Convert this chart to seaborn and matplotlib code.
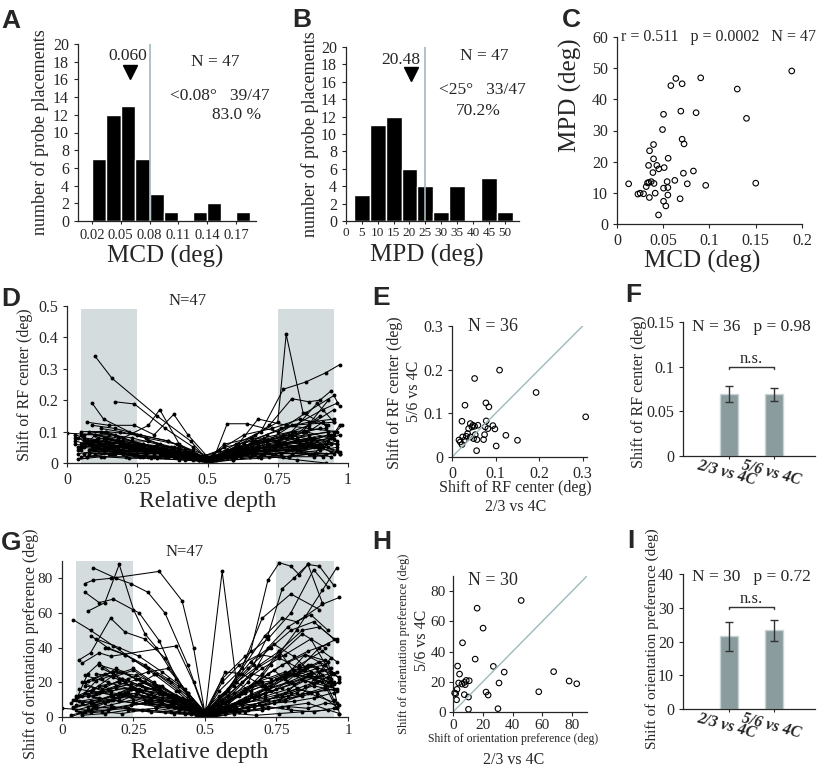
import numpy as np
import pandas as pd
import seaborn as sns
import matplotlib.pyplot as plt

# ---- A: MCD histogram
mcd_edges = [0.02, 0.035, 0.05, 0.065, 0.08, 0.095, 0.11, 0.125, 0.14, 0.155, 0.17, 0.185]
mcd_counts = [7, 12, 13, 7, 3, 1, 0, 1, 2, 0, 1]
mcd_median = 0.060
mcd_cut = 0.08

# ---- B: MPD histogram
mpd_edges = [2.5, 7.5, 12.5, 17.5, 22.5, 27.5, 32.5, 37.5, 42.5, 47.5, 52.5]
mpd_counts = [3, 11, 12, 6, 4, 1, 4, 0, 5, 1]
mpd_median = 20.48
mpd_cut = 25

# ---- C: MCD vs MPD
c_mcd = [0.0126, 0.0226, 0.025, 0.0287, 0.0316, 0.0330, 0.0345, 0.0370, 0.0350, 0.0400,
         0.0413, 0.0449, 0.0388, 0.0395, 0.0341, 0.0352, 0.0395, 0.0431, 0.0452, 0.0510,
         0.0492, 0.0503, 0.0553, 0.0542, 0.0503, 0.0550, 0.0550, 0.0503, 0.0528, 0.0625,
         0.0582, 0.0636, 0.0704, 0.0690, 0.0704, 0.0725, 0.0718, 0.0760, 0.0682, 0.0855,
         0.0905, 0.0826, 0.0959, 0.1300, 0.1400, 0.1500, 0.1889]
c_mpd = [12.9, 9.6, 9.9, 9.7, 12.0, 13.2, 13.3, 13.6, 8.5, 13.0,
         9.9, 2.9, 16.5, 20.9, 18.8, 23.5, 25.5, 18.8, 17.7, 18.1,
         30.3, 35.2, 21.1, 13.6, 11.5, 11.7, 9.3, 7.3, 5.8, 14.0,
         44.4, 46.7, 45.0, 36.2, 27.2, 25.7, 16.3, 12.9, 8.1, 35.7,
         46.9, 17.0, 12.4, 43.3, 33.9, 13.1, 49.1]

# ---- D: RF center shift vs relative depth (one line per probe placement)
d_depth = [
    [0.10, 0.16, 0.32, 0.44, 0.50, 0.58, 0.70, 0.82, 0.93],
    [0.17, 0.24, 0.35, 0.45, 0.51, 0.60, 0.72, 0.85, 0.94],
    [0.09, 0.13, 0.22, 0.33, 0.48, 0.56, 0.68, 0.80, 0.95],
    [0.00, 0.10, 0.20, 0.30, 0.42, 0.50, 0.62, 0.75, 0.88],
    [0.06, 0.12, 0.20, 0.29, 0.33, 0.40, 0.50, 0.58, 0.67, 0.75, 0.78, 0.84, 0.92],
    [0.07, 0.15, 0.24, 0.31, 0.38, 0.43, 0.51, 0.60, 0.70, 0.80, 0.90],
    [0.05, 0.14, 0.27, 0.40, 0.50, 0.60, 0.69, 0.77, 0.85, 0.92, 0.97],
    [0.04, 0.11, 0.22, 0.36, 0.50, 0.63, 0.72, 0.80, 0.86, 0.90, 0.94],
    [0.03, 0.10, 0.19, 0.30, 0.45, 0.52, 0.57, 0.64, 0.75, 0.85, 0.95, 0.97],
    [0.05, 0.13, 0.21, 0.28, 0.36, 0.46, 0.50, 0.56, 0.66, 0.74, 0.83, 0.94, 0.97],
    [0.06, 0.16, 0.26, 0.36, 0.44, 0.50, 0.57, 0.64, 0.72, 0.81, 0.90],
    [0.03, 0.09, 0.17, 0.25, 0.35, 0.47, 0.53, 0.61, 0.70, 0.79, 0.88, 0.96],
    [0.10, 0.18, 0.27, 0.37, 0.47, 0.52, 0.61, 0.71, 0.81, 0.92],
    [0.12, 0.19, 0.28, 0.39, 0.48, 0.54, 0.63, 0.73, 0.83, 0.93],
    [0.14, 0.23, 0.32, 0.41, 0.50, 0.59, 0.68, 0.77, 0.86, 0.95],
    [0.04, 0.08, 0.14, 0.22, 0.31, 0.42, 0.49, 0.56, 0.66, 0.76, 0.87, 0.96],
    [0.06, 0.13, 0.20, 0.29, 0.39, 0.47, 0.53, 0.62, 0.71, 0.80, 0.89, 0.97],
    [0.05, 0.10, 0.18, 0.27, 0.38, 0.46, 0.50, 0.58, 0.68, 0.78, 0.87, 0.93],
    [0.07, 0.15, 0.25, 0.35, 0.45, 0.51, 0.59, 0.69, 0.79, 0.88, 0.98],
    [0.04, 0.12, 0.21, 0.30, 0.40, 0.49, 0.55, 0.63, 0.72, 0.82, 0.91],
    [0.09, 0.16, 0.24, 0.34, 0.43, 0.50, 0.56, 0.66, 0.75, 0.85, 0.95],
    [0.11, 0.19, 0.29, 0.38, 0.46, 0.52, 0.60, 0.68, 0.78, 0.86, 0.96],
    [0.08, 0.17, 0.26, 0.34, 0.44, 0.50, 0.57, 0.65, 0.74, 0.84, 0.93],
    [0.03, 0.11, 0.20, 0.31, 0.41, 0.48, 0.55, 0.64, 0.74, 0.85, 0.94],
    [0.05, 0.15, 0.23, 0.32, 0.42, 0.50, 0.58, 0.67, 0.76, 0.86, 0.95],
    [0.13, 0.21, 0.30, 0.40, 0.49, 0.55, 0.64, 0.73, 0.82, 0.91],
    [0.06, 0.14, 0.23, 0.33, 0.43, 0.51, 0.60, 0.70, 0.80, 0.90, 0.97],
    [0.08, 0.16, 0.24, 0.33, 0.42, 0.49, 0.57, 0.65, 0.76, 0.86, 0.95],
    [0.10, 0.19, 0.28, 0.37, 0.46, 0.50, 0.58, 0.68, 0.78, 0.88, 0.96],
    [0.04, 0.12, 0.21, 0.31, 0.41, 0.50, 0.59, 0.68, 0.77, 0.87, 0.94],
    [0.07, 0.14, 0.22, 0.31, 0.41, 0.50, 0.56, 0.65, 0.74, 0.84, 0.93],
    [0.09, 0.17, 0.26, 0.36, 0.45, 0.51, 0.61, 0.70, 0.80, 0.89, 0.95],
    [0.05, 0.13, 0.22, 0.32, 0.42, 0.50, 0.59, 0.69, 0.79, 0.88, 0.97],
    [0.10, 0.18, 0.27, 0.37, 0.46, 0.51, 0.59, 0.67, 0.76, 0.85, 0.94],
    [0.06, 0.15, 0.24, 0.34, 0.44, 0.50, 0.60, 0.71, 0.81, 0.91],
    [0.12, 0.20, 0.29, 0.39, 0.48, 0.54, 0.62, 0.71, 0.80, 0.90],
    [0.03, 0.09, 0.18, 0.28, 0.40, 0.49, 0.57, 0.67, 0.78, 0.88, 0.96],
    [0.08, 0.17, 0.27, 0.38, 0.47, 0.53, 0.62, 0.72, 0.82, 0.92],
    [0.11, 0.20, 0.30, 0.40, 0.49, 0.56, 0.66, 0.76, 0.86, 0.95],
    [0.05, 0.14, 0.25, 0.36, 0.46, 0.52, 0.61, 0.71, 0.81, 0.91, 0.96],
    [0.07, 0.16, 0.26, 0.36, 0.45, 0.50, 0.58, 0.66, 0.74, 0.83, 0.92],
    [0.09, 0.18, 0.28, 0.39, 0.48, 0.55, 0.64, 0.74, 0.84, 0.93],
    [0.04, 0.13, 0.23, 0.34, 0.45, 0.51, 0.60, 0.70, 0.80, 0.90, 0.97],
    [0.06, 0.14, 0.24, 0.35, 0.45, 0.50, 0.57, 0.68, 0.79, 0.89, 0.94],
    [0.10, 0.20, 0.31, 0.41, 0.50, 0.58, 0.69, 0.80, 0.90, 0.96],
    [0.13, 0.22, 0.33, 0.43, 0.50, 0.57, 0.66, 0.76, 0.86, 0.95],
    [0.08, 0.15, 0.25, 0.35, 0.44, 0.51, 0.60, 0.70, 0.81, 0.92],
]
d_shift = [
    [0.34, 0.27, 0.15, 0.07, 0.01, 0.03, 0.05, 0.08, 0.10],
    [0.195, 0.188, 0.11, 0.05, 0.005, 0.04, 0.06, 0.07, 0.09],
    [0.19, 0.14, 0.10, 0.06, 0.01, 0.02, 0.05, 0.12, 0.13],
    [0.095, 0.09, 0.07, 0.05, 0.03, 0.0, 0.03, 0.06, 0.08],
    [0.09, 0.10, 0.08, 0.12, 0.17, 0.06, 0.01, 0.04, 0.09, 0.13, 0.41, 0.16, 0.12],
    [0.13, 0.12, 0.12, 0.09, 0.155, 0.09, 0.01, 0.05, 0.07, 0.09, 0.11],
    [0.06, 0.07, 0.05, 0.03, 0.01, 0.06, 0.10, 0.235, 0.258, 0.287, 0.313],
    [0.04, 0.08, 0.06, 0.04, 0.005, 0.06, 0.12, 0.205, 0.195, 0.20, 0.23],
    [0.08, 0.07, 0.06, 0.04, 0.02, 0.01, 0.125, 0.125, 0.10, 0.16, 0.215, 0.18],
    [0.05, 0.06, 0.05, 0.04, 0.03, 0.02, 0.01, 0.03, 0.05, 0.04, 0.06, 0.08, 0.12],
    [0.07, 0.06, 0.04, 0.03, 0.02, 0.0, 0.02, 0.04, 0.05, 0.07, 0.05],
    [0.06, 0.05, 0.04, 0.03, 0.02, 0.01, 0.02, 0.03, 0.04, 0.04, 0.06, 0.04],
    [0.09, 0.08, 0.06, 0.05, 0.02, 0.03, 0.05, 0.07, 0.10, 0.11],
    [0.11, 0.10, 0.08, 0.06, 0.02, 0.04, 0.09, 0.11, 0.14, 0.12],
    [0.10, 0.07, 0.05, 0.03, 0.005, 0.03, 0.07, 0.09, 0.12, 0.17],
    [0.08, 0.06, 0.05, 0.04, 0.03, 0.02, 0.01, 0.02, 0.03, 0.05, 0.06, 0.06],
    [0.03, 0.04, 0.03, 0.02, 0.02, 0.01, 0.02, 0.04, 0.04, 0.03, 0.05, 0.03],
    [0.04, 0.09, 0.07, 0.06, 0.04, 0.02, 0.0, 0.03, 0.06, 0.08, 0.07, 0.09],
    [0.02, 0.03, 0.04, 0.03, 0.02, 0.01, 0.02, 0.03, 0.02, 0.03, 0.12],
    [0.012, 0.02, 0.02, 0.015, 0.01, 0.005, 0.02, 0.03, 0.04, 0.04, 0.02],
    [0.06, 0.05, 0.06, 0.05, 0.03, 0.01, 0.06, 0.08, 0.07, 0.10, 0.075],
    [0.08, 0.07, 0.07, 0.05, 0.03, 0.01, 0.05, 0.14, 0.12, 0.11, 0.10],
    [0.10, 0.09, 0.06, 0.04, 0.03, 0.0, 0.04, 0.06, 0.07, 0.06, 0.07],
    [0.07, 0.05, 0.04, 0.04, 0.03, 0.01, 0.03, 0.05, 0.05, 0.07, 0.035],
    [0.09, 0.09, 0.08, 0.06, 0.04, 0.01, 0.03, 0.07, 0.08, 0.09, 0.10],
    [0.08, 0.06, 0.05, 0.04, 0.02, 0.02, 0.03, 0.03, 0.04, 0.05],
    [0.05, 0.04, 0.03, 0.03, 0.02, 0.005, 0.02, 0.04, 0.05, 0.06, 0.09],
    [0.04, 0.03, 0.025, 0.02, 0.015, 0.005, 0.015, 0.02, 0.03, 0.03, 0.03],
    [0.05, 0.04, 0.03, 0.03, 0.02, 0.005, 0.03, 0.05, 0.06, 0.08, 0.06],
    [0.05, 0.06, 0.05, 0.04, 0.03, 0.0, 0.01, 0.02, 0.02, 0.03, 0.02],
    [0.07, 0.08, 0.06, 0.05, 0.03, 0.02, 0.03, 0.06, 0.05, 0.10, 0.20],
    [0.12, 0.11, 0.09, 0.07, 0.04, 0.02, 0.04, 0.08, 0.10, 0.19, 0.13],
    [0.02, 0.02, 0.015, 0.015, 0.01, 0.005, 0.01, 0.015, 0.02, 0.02, 0.035],
    [0.03, 0.05, 0.04, 0.03, 0.015, 0.01, 0.02, 0.04, 0.06, 0.05, 0.06],
    [0.065, 0.06, 0.04, 0.03, 0.02, 0.01, 0.03, 0.04, 0.07, 0.13],
    [0.06, 0.05, 0.04, 0.03, 0.015, 0.02, 0.04, 0.06, 0.08, 0.15],
    [0.09, 0.07, 0.05, 0.04, 0.03, 0.01, 0.02, 0.03, 0.04, 0.05, 0.07],
    [0.03, 0.03, 0.02, 0.02, 0.01, 0.01, 0.02, 0.02, 0.01, 0.0],
    [0.07, 0.06, 0.05, 0.05, 0.01, 0.05, 0.07, 0.11, 0.13, 0.14],
    [0.10, 0.10, 0.09, 0.07, 0.03, 0.01, 0.06, 0.09, 0.12, 0.17, 0.19],
    [0.02, 0.03, 0.02, 0.02, 0.01, 0.005, 0.02, 0.03, 0.03, 0.04, 0.03],
    [0.045, 0.04, 0.035, 0.03, 0.01, 0.02, 0.04, 0.05, 0.05, 0.05],
    [0.03, 0.04, 0.03, 0.03, 0.02, 0.01, 0.03, 0.04, 0.04, 0.06, 0.03],
    [0.08, 0.07, 0.05, 0.04, 0.025, 0.01, 0.04, 0.06, 0.09, 0.07, 0.08],
    [0.04, 0.03, 0.02, 0.02, 0.005, 0.02, 0.03, 0.03, 0.04, 0.05],
    [0.05, 0.05, 0.04, 0.03, 0.01, 0.03, 0.04, 0.06, 0.08, 0.09],
    [0.06, 0.05, 0.05, 0.04, 0.03, 0.005, 0.02, 0.03, 0.05, 0.06],
]

# ---- E: RF center shift, 5/6 vs 2/3
e_x = [0.0160, 0.0229, 0.0244, 0.0229, 0.0298, 0.0328, 0.0359, 0.0382, 0.0420, 0.0458,
       0.0481, 0.0519, 0.0595, 0.0420, 0.0496, 0.0534, 0.0573, 0.0519, 0.0565, 0.0725,
       0.0748, 0.0763, 0.0786, 0.0779, 0.0847, 0.0824, 0.0939, 0.0985, 0.1015, 0.1092,
       0.1237, 0.1504, 0.1931, 0.307, 0.0191, 0.0282]
e_y = [0.0390, 0.0283, 0.0459, 0.0819, 0.1186, 0.0474, 0.0536, 0.0650, 0.0765, 0.0689,
       0.0727, 0.0704, 0.0727, 0.0459, 0.0421, 0.0512, 0.0398, 0.1798, 0.0145, 0.0398,
       0.0512, 0.0689, 0.0827, 0.1239, 0.1148, 0.0650, 0.0719, 0.0643, 0.0252, 0.1989,
       0.0497, 0.0383, 0.1477, 0.092, 0.0344, 0.0383]

# ---- F: mean RF shift per layer pair
layer_pairs = ["2/3 vs 4C", "5/6 vs 4C"]
rf_mean = [0.069, 0.069]
rf_sem = [0.009, 0.007]

# ---- G: orientation shift vs relative depth
g_depth = [
    [0.08, 0.11, 0.17, 0.34, 0.42, 0.46, 0.50, 0.58, 0.68, 0.78, 0.88],
    [0.11, 0.19, 0.24, 0.30, 0.36, 0.44, 0.50, 0.56, 0.64, 0.72, 0.80, 0.88, 0.93],
    [0.09, 0.15, 0.20, 0.25, 0.29, 0.33, 0.40, 0.50, 0.55, 0.62, 0.70, 0.80, 0.90],
    [0.08, 0.13, 0.18, 0.27, 0.34, 0.41, 0.50, 0.56, 0.61, 0.66, 0.73, 0.82, 0.91, 0.96],
    [0.04, 0.10, 0.18, 0.25, 0.32, 0.40, 0.47, 0.50, 0.57, 0.65, 0.72, 0.79, 0.85, 0.91, 0.97],
    [0.06, 0.10, 0.17, 0.22, 0.29, 0.36, 0.45, 0.50, 0.55, 0.63, 0.71, 0.77, 0.82, 0.87, 0.93],
    [0.07, 0.13, 0.17, 0.40, 0.46, 0.50, 0.58, 0.66, 0.72, 0.76, 0.80, 0.83, 0.86, 0.90, 0.95],
    [0.10, 0.16, 0.22, 0.30, 0.38, 0.44, 0.50, 0.60, 0.67, 0.72, 0.77, 0.81, 0.86, 0.91],
    [0.05, 0.09, 0.13, 0.20, 0.27, 0.35, 0.44, 0.50, 0.57, 0.64, 0.70, 0.76, 0.84, 0.90, 0.96],
    [0.03, 0.07, 0.12, 0.19, 0.26, 0.34, 0.42, 0.49, 0.56, 0.63, 0.70, 0.78, 0.87, 0.94],
    [0.05, 0.11, 0.18, 0.25, 0.32, 0.40, 0.47, 0.51, 0.58, 0.66, 0.73, 0.79, 0.85, 0.92, 0.97],
    [0.08, 0.14, 0.21, 0.28, 0.36, 0.44, 0.50, 0.56, 0.63, 0.70, 0.78, 0.84, 0.90, 0.95],
    [0.04, 0.10, 0.16, 0.24, 0.31, 0.39, 0.46, 0.50, 0.57, 0.65, 0.72, 0.80, 0.88, 0.96],
    [0.00, 0.09, 0.16, 0.23, 0.30, 0.38, 0.45, 0.50, 0.55, 0.62, 0.70, 0.77, 0.86, 0.97],
    [0.06, 0.12, 0.19, 0.27, 0.34, 0.41, 0.48, 0.53, 0.60, 0.68, 0.75, 0.83, 0.91, 0.96],
    [0.03, 0.08, 0.15, 0.22, 0.29, 0.37, 0.44, 0.50, 0.56, 0.64, 0.71, 0.79, 0.86, 0.94],
    [0.09, 0.15, 0.22, 0.28, 0.35, 0.43, 0.50, 0.57, 0.63, 0.70, 0.77, 0.84, 0.91, 0.95],
    [0.07, 0.13, 0.20, 0.27, 0.33, 0.41, 0.49, 0.55, 0.61, 0.69, 0.76, 0.82, 0.89, 0.96],
    [0.12, 0.18, 0.25, 0.32, 0.38, 0.45, 0.50, 0.57, 0.64, 0.72, 0.80, 0.87, 0.94],
    [0.05, 0.11, 0.17, 0.24, 0.31, 0.39, 0.46, 0.51, 0.59, 0.67, 0.74, 0.81, 0.88, 0.95],
    [0.10, 0.17, 0.24, 0.31, 0.38, 0.45, 0.50, 0.56, 0.63, 0.71, 0.79, 0.85, 0.92, 0.97],
    [0.06, 0.12, 0.18, 0.25, 0.33, 0.41, 0.49, 0.55, 0.62, 0.70, 0.78, 0.84, 0.90, 0.94],
    [0.08, 0.14, 0.21, 0.29, 0.36, 0.43, 0.50, 0.58, 0.66, 0.73, 0.81, 0.88, 0.94],
    [0.13, 0.19, 0.26, 0.33, 0.40, 0.46, 0.50, 0.56, 0.63, 0.71, 0.78, 0.85, 0.93],
    [0.04, 0.11, 0.17, 0.24, 0.32, 0.40, 0.47, 0.52, 0.60, 0.67, 0.75, 0.82, 0.89, 0.96],
    [0.07, 0.14, 0.21, 0.28, 0.36, 0.43, 0.50, 0.57, 0.65, 0.72, 0.79, 0.86, 0.92, 0.97],
    [0.09, 0.16, 0.23, 0.30, 0.38, 0.46, 0.50, 0.58, 0.66, 0.73, 0.81, 0.87, 0.95],
    [0.05, 0.12, 0.20, 0.28, 0.35, 0.43, 0.49, 0.56, 0.64, 0.71, 0.78, 0.85, 0.92],
    [0.11, 0.17, 0.24, 0.31, 0.39, 0.46, 0.50, 0.57, 0.65, 0.74, 0.82, 0.89, 0.95],
    [0.06, 0.13, 0.20, 0.26, 0.34, 0.42, 0.48, 0.55, 0.62, 0.69, 0.77, 0.84, 0.91, 0.97],
    [0.10, 0.16, 0.22, 0.29, 0.37, 0.45, 0.50, 0.57, 0.64, 0.72, 0.80, 0.88, 0.95],
    [0.08, 0.15, 0.23, 0.30, 0.37, 0.44, 0.50, 0.58, 0.66, 0.74, 0.81, 0.87, 0.93],
    [0.12, 0.20, 0.27, 0.35, 0.43, 0.50, 0.56, 0.62, 0.69, 0.76, 0.83, 0.90, 0.96],
    [0.14, 0.21, 0.28, 0.36, 0.44, 0.50, 0.57, 0.64, 0.72, 0.79, 0.86, 0.93],
    [0.03, 0.10, 0.17, 0.25, 0.33, 0.41, 0.48, 0.54, 0.61, 0.69, 0.76, 0.84, 0.92, 0.97],
    [0.07, 0.14, 0.21, 0.29, 0.37, 0.45, 0.51, 0.58, 0.66, 0.74, 0.82, 0.89, 0.96],
    [0.09, 0.17, 0.25, 0.33, 0.41, 0.48, 0.53, 0.61, 0.70, 0.78, 0.86, 0.94],
    [0.11, 0.18, 0.26, 0.34, 0.42, 0.49, 0.55, 0.62, 0.70, 0.78, 0.85, 0.92],
    [0.06, 0.13, 0.21, 0.30, 0.38, 0.46, 0.51, 0.58, 0.67, 0.75, 0.83, 0.91],
    [0.15, 0.22, 0.29, 0.37, 0.44, 0.50, 0.57, 0.65, 0.73, 0.80, 0.88, 0.95],
    [0.04, 0.11, 0.18, 0.26, 0.34, 0.42, 0.49, 0.56, 0.63, 0.71, 0.79, 0.87, 0.95],
    [0.08, 0.16, 0.24, 0.32, 0.40, 0.47, 0.52, 0.60, 0.68, 0.76, 0.84, 0.92],
    [0.10, 0.18, 0.26, 0.34, 0.42, 0.49, 0.56, 0.64, 0.73, 0.81, 0.88, 0.96],
    [0.05, 0.12, 0.19, 0.27, 0.35, 0.43, 0.50, 0.57, 0.65, 0.73, 0.81, 0.89, 0.96],
    [0.13, 0.20, 0.27, 0.35, 0.43, 0.50, 0.56, 0.63, 0.71, 0.79, 0.86, 0.94],
    [0.07, 0.15, 0.23, 0.31, 0.39, 0.47, 0.53, 0.60, 0.68, 0.76, 0.84, 0.93],
    [0.09, 0.16, 0.24, 0.32, 0.40, 0.48, 0.54, 0.61, 0.69, 0.77, 0.85, 0.93, 0.97],
]
g_shift = [
    [77, 79, 80, 84, 67, 40, 2, 12, 20, 26, 22],
    [86, 80, 77, 72, 60, 30, 3, 22, 35, 45, 60, 85, 75],
    [61, 66, 88, 62, 48, 40, 22, 1, 10, 25, 57, 71, 62],
    [72, 66, 68, 60, 44, 18, 1, 84, 20, 15, 30, 50, 73, 86],
    [56, 50, 41, 33, 25, 15, 5, 1, 8, 20, 40, 52, 58, 65, 69],
    [33, 37, 57, 49, 45, 34, 10, 2, 15, 28, 47, 57, 55, 59, 50],
    [31, 37, 35, 41, 20, 2, 15, 38, 79, 89, 87, 82, 88, 87, 76],
    [47, 40, 36, 28, 20, 12, 0, 18, 30, 47, 74, 80, 88, 66],
    [10, 25, 31, 22, 15, 10, 5, 0, 6, 15, 25, 38, 50, 52, 44],
    [8, 12, 21, 28, 22, 15, 8, 2, 10, 20, 28, 36, 45, 25],
    [12, 16, 24, 28, 20, 12, 6, 1, 5, 12, 18, 25, 36, 30, 22],
    [20, 22, 26, 20, 14, 8, 2, 8, 14, 20, 22, 27, 32, 20],
    [5, 8, 10, 12, 10, 8, 4, 1, 3, 6, 10, 14, 18, 15],
    [5, 4, 4, 5, 4, 3, 2, 0, 2, 3, 4, 6, 8, 2],
    [12, 14, 18, 22, 16, 10, 3, 1, 6, 12, 22, 30, 38, 32],
    [0, 3, 8, 14, 20, 12, 6, 1, 4, 9, 16, 20, 25, 28],
    [21, 25, 20, 12, 8, 5, 1, 26, 25, 18, 12, 22, 24, 10],
    [8, 10, 14, 19, 25, 15, 3, 12, 20, 30, 38, 24, 28, 5],
    [25, 23, 27, 19, 12, 7, 2, 5, 11, 16, 20, 24, 20],
    [7, 6, 5, 7, 8, 6, 3, 1, 4, 6, 8, 9, 11, 14],
    [15, 13, 12, 11, 9, 6, 1, 3, 7, 12, 16, 21, 18, 20],
    [3, 5, 6, 4, 5, 3, 1, 5, 8, 6, 10, 13, 26, 34],
    [18, 16, 22, 17, 13, 10, 2, 6, 13, 18, 24, 19, 22],
    [30, 27, 22, 18, 12, 6, 1, 4, 8, 11, 14, 18, 23],
    [10, 8, 12, 16, 12, 9, 5, 1, 4, 7, 12, 16, 14, 6],
    [2, 3, 2, 4, 3, 2, 1, 3, 4, 5, 6, 5, 8, 7],
    [6, 9, 14, 12, 8, 4, 1, 12, 25, 22, 27, 30, 19],
    [4, 7, 11, 15, 18, 8, 2, 6, 10, 14, 23, 27, 33],
    [12, 15, 17, 14, 10, 5, 1, 3, 5, 9, 14, 20, 25],
    [9, 11, 9, 13, 10, 7, 3, 4, 9, 12, 17, 22, 27, 23],
    [3, 4, 6, 8, 6, 3, 0, 2, 3, 6, 4, 3, 5],
    [14, 18, 22, 26, 28, 14, 3, 16, 32, 42, 35, 26, 20],
    [45, 40, 35, 26, 16, 2, 20, 30, 36, 34, 28, 40, 45],
    [28, 22, 18, 14, 10, 1, 8, 14, 25, 32, 38, 42],
    [1, 4, 7, 10, 6, 4, 1, 3, 6, 8, 10, 12, 16, 20],
    [20, 15, 13, 10, 7, 4, 1, 9, 18, 27, 17, 12, 8],
    [12, 10, 8, 6, 5, 2, 1, 4, 7, 9, 14, 18],
    [22, 26, 24, 18, 11, 3, 7, 12, 18, 24, 28, 30],
    [16, 14, 12, 9, 7, 4, 1, 6, 11, 16, 26, 20],
    [40, 36, 30, 22, 14, 2, 14, 28, 40, 50, 55, 45],
    [6, 8, 10, 8, 7, 5, 2, 5, 8, 10, 12, 14, 16],
    [24, 20, 16, 12, 10, 4, 1, 14, 28, 36, 48, 40],
    [9, 12, 16, 14, 9, 3, 9, 16, 20, 25, 22, 16],
    [11, 13, 17, 15, 11, 6, 2, 5, 10, 15, 19, 23, 26],
    [18, 20, 16, 13, 9, 1, 8, 14, 18, 25, 30, 26],
    [1, 2, 4, 3, 2, 1, 0, 2, 1, 2, 3, 4],
    [13, 16, 19, 16, 12, 5, 1, 12, 21, 30, 36, 32, 2],
]

# ---- H: orientation shift, 5/6 vs 2/3
h_x = [45.8, 16.2, 20.2, 6.4, 14.9, 27.1, 34.4, 3.1, 4.4, 2.7,
       1.8, 1.1, 2.4, 3.8, 6.0, 7.6, 8.9, 10.9, 8.2, 7.6,
       10.4, 10.4, 22.2, 23.6, 30.9, 30.2, 57.6, 67.6, 78.0, 83.1]
h_y = [73.8, 68.7, 55.5, 45.8, 35.0, 30.2, 26.4, 30.4, 25.1, 15.0,
       12.1, 12.6, 8.1, 19.2, 18.5, 19.6, 20.9, 20.7, 18.1, 11.5,
       9.9, 1.8, 13.2, 11.2, 19.2, 2.2, 13.4, 26.7, 20.5, 18.7]

# ---- I: mean orientation shift per layer pair
ori_mean = [21.5, 23.3]
ori_sem = [4.3, 3.2]

# ---------------------------------------------------------------- style
sns.set_style("ticks")
plt.rcParams["font.family"] = ["Liberation Serif", "DejaVu Serif"]
plt.rcParams["axes.linewidth"] = 0.9
plt.rcParams["xtick.major.size"] = 3
plt.rcParams["ytick.major.size"] = 3
plt.rcParams["xtick.major.width"] = 0.8
plt.rcParams["ytick.major.width"] = 0.8

REF = "#9fb9bd"     # thin reference lines
SHADE = "#d4dcde"
BAR = "#8a9c9e"

W, H = 820, 768
fig = plt.figure(figsize=(W / 100, H / 100), dpi=100)


def add_ax(l, t, r, b):
    ax = fig.add_axes([l / W, 1 - b / H, (r - l) / W, (b - t) / H])
    sns.despine(ax=ax)
    return ax


def lab(ax, x, y, s, size, rot=0, **kw):
    ax.text(x, y, s, transform=ax.transAxes, ha="center", va="center",
            rotation=rot, fontsize=size, **kw)


def letter(x, y, s):
    fig.text(x / W, 1 - y / H, s, ha="left", va="top", fontsize=19,
             fontweight="bold", family=["Liberation Sans", "DejaVu Sans"])


def lines_panel(ax, depths, shifts):
    rows = []
    for i, (xs, ys) in enumerate(zip(depths, shifts)):
        rows += [(i, x, y) for x, y in zip(xs, ys)]
    df = pd.DataFrame(rows, columns=["probe", "depth", "shift"])
    sns.lineplot(data=df, x="depth", y="shift", units="probe", estimator=None,
                 sort=False, color="black", lw=0.75, marker="o", markersize=2.8,
                 markeredgewidth=0, ax=ax, legend=False)
    ax.set_xlim(0, 1)
    ax.set_xticks([0, 0.25, 0.5, 0.75, 1], labels=["0", "0.25", "0.5", "0.75", "1"])
    ax.set_xlabel("")
    ax.set_ylabel("")
    ax.tick_params(labelsize=11.5)


def scatter_panel(ax, xs, ys):
    sns.scatterplot(x=xs, y=ys, ax=ax, marker="o", s=16, facecolor="none",
                    edgecolor="black", linewidth=0.8, clip_on=False)


# ---------------------------------------------------------------- A
ax = add_ax(78, 44, 256, 221)
mcd_centers = (np.array(mcd_edges[:-1]) + np.array(mcd_edges[1:])) / 2
sns.histplot(x=mcd_centers, weights=mcd_counts, bins=mcd_edges, color="black",
             edgecolor="white", linewidth=1, alpha=1, ax=ax)
ax.axvline(mcd_cut, color=REF, lw=1.2)
ax.plot(mcd_median, 16.8, marker="v", color="black", markersize=10)
ax.text(0.0575, 18.6, f"{mcd_median:.3f}", ha="center", va="center", fontsize=12.5)
ax.text(0.148, 18.0, "N = 47", ha="center", va="center", fontsize=12.5)
ax.text(0.153, 14.1, "<0.08°   39/47", ha="center", va="center", fontsize=12.5)
ax.text(0.171, 12.0, "83.0 %", ha="center", va="center", fontsize=12.5)
ax.set_xlim(0.0054, 0.191)
ax.set_ylim(0, 20)
ax.set_yticks(range(0, 21, 2))
ax.set_xticks([0.02, 0.05, 0.08, 0.11, 0.14, 0.17],
              labels=["0.02", "0.05", "0.08", "0.11", "0.14", "0.17"])
ax.tick_params(axis="y", labelsize=11.5)
ax.tick_params(axis="x", labelsize=10.5, length=2)
ax.set_xlabel("")
ax.set_ylabel("")
lab(ax, -0.215, 0.5, "number of probe placements", 13, 90)
lab(ax, 0.49, -0.2, "MCD (deg)", 18)

# ---------------------------------------------------------------- B
ax = add_ax(346, 47, 519, 221)
mpd_centers = (np.array(mpd_edges[:-1]) + np.array(mpd_edges[1:])) / 2
sns.histplot(x=mpd_centers, weights=mpd_counts, bins=mpd_edges, color="black",
             edgecolor="white", linewidth=1, alpha=1, ax=ax)
ax.axvline(mpd_cut, color=REF, lw=1.2)
ax.plot(mpd_median, 16.9, marker="v", color="black", markersize=10)
ax.text(17.2, 18.5, f"{mpd_median:.2f}", ha="center", va="center", fontsize=12.5)
ax.text(43.7, 19.0, "N = 47", ha="center", va="center", fontsize=12.5)
ax.text(43.0, 15.0, "<25°   33/47", ha="center", va="center", fontsize=12.5)
ax.text(41.6, 12.7, "70.2%", ha="center", va="center", fontsize=12.5)
ax.set_xlim(0, 54.5)
ax.set_ylim(0, 20)
ax.set_yticks(range(0, 21, 2))
ax.set_xticks(range(0, 51, 5))
ax.tick_params(axis="y", labelsize=11.5)
ax.tick_params(axis="x", labelsize=9.5, length=2, pad=2)
ax.set_xlabel("")
ax.set_ylabel("")
lab(ax, -0.21, 0.5, "number of probe placements", 13, 90)
lab(ax, 0.47, -0.2, "MPD (deg)", 18)

# ---------------------------------------------------------------- C
ax = add_ax(617, 37, 802, 224)
scatter_panel(ax, c_mcd, c_mpd)
ax.set_xlim(0, 0.2)
ax.set_ylim(0, 60)
ax.set_xticks([0, 0.05, 0.1, 0.15, 0.2], labels=["0", "0.05", "0.1", "0.15", "0.2"])
ax.set_yticks(range(0, 61, 10))
ax.tick_params(labelsize=11.5)
ax.text(0.004, 60, "r = 0.511   p = 0.0002   N = 47", ha="left", va="center",
        fontsize=11.5)
lab(ax, -0.25, 0.69, "MPD (deg)", 18, 90)
lab(ax, 0.46, -0.2, "MCD (deg)", 18)

# ---------------------------------------------------------------- D
ax = add_ax(67, 306, 348, 463)
ax.axvspan(0.05, 0.25, ymax=0.98, color=SHADE, lw=0)
ax.axvspan(0.75, 0.95, ymax=0.98, color=SHADE, lw=0)
lines_panel(ax, d_depth, d_shift)
ax.set_ylim(0, 0.5)
ax.set_yticks([0, 0.1, 0.2, 0.3, 0.4, 0.5], labels=["0", "0.1", "0.2", "0.3", "0.4", "0.5"])
lab(ax, 0.43, 1.03, "N=47", 12)
lab(ax, -0.15, 0.5, "Shift of RF center (deg)", 11.5, 90)
lab(ax, 0.5, -0.245, "Relative depth", 17)

# ---------------------------------------------------------------- E
ax = add_ax(452, 326, 587, 457)
ax.plot([0, 0.3], [0, 0.3], color=REF, lw=1)
scatter_panel(ax, e_x, e_y)
ax.set_xlim(0, 0.31)
ax.set_ylim(0, 0.3)
ax.set_xticks([0, 0.1, 0.2, 0.3], labels=["0", "0.1", "0.2", "0.3"])
ax.set_yticks([0, 0.1, 0.2, 0.3], labels=["0", "0.1", "0.2", "0.3"])
ax.tick_params(labelsize=11.5)
ax.text(0.095, 0.298, "N = 36", ha="center", va="center", fontsize=13)
lab(ax, -0.42, 0.49, "Shift of RF center (deg)", 11.5, 90)
lab(ax, -0.285, 0.5, "5/6 vs 4C", 11.5, 90)
lab(ax, 0.47, -0.24, "Shift of RF center (deg)", 11.5)
lab(ax, 0.47, -0.385, "2/3 vs 4C", 11.5)


def bar_panel(ax, means, sems, top, ticks, ticklabels, text, ns_y, text_y, ns_text_y):
    sns.barplot(x=layer_pairs, y=means, color=BAR, width=0.4, edgecolor="#c9d3d4",
                linewidth=1, errorbar=None, saturation=1, ax=ax)
    ax.errorbar([0, 1], means, yerr=sems, fmt="none", ecolor="#333333",
                elinewidth=1, capsize=3, capthick=1)
    tick = top * 0.017
    ax.plot([0, 0, 1, 1], [ns_y - tick, ns_y, ns_y, ns_y - tick], color="#333333", lw=1)
    ax.text(0.5, ns_text_y, "n.s.", ha="center", va="center", fontsize=12)
    ax.text(0.5, text_y, text, ha="center", va="center", fontsize=12.5)
    ax.set_xlim(-1.02, 1.92)
    ax.set_ylim(0, top)
    ax.set_yticks(ticks, labels=ticklabels)
    ax.tick_params(axis="y", labelsize=11.5)
    ax.set_xticks([0, 1])
    ax.set_xticklabels(layer_pairs, rotation=-15, rotation_mode="anchor",
                       ha="center", va="top", fontsize=11.5, fontweight="bold",
                       fontstyle="italic")
    ax.tick_params(axis="x", length=2, pad=5)
    ax.set_xlabel("")
    ax.set_ylabel("")


# ---------------------------------------------------------------- F
ax = add_ax(683, 322, 815, 456)
bar_panel(ax, rf_mean, rf_sem, 0.15, [0, 0.05, 0.1, 0.15], ["0", "0.05", "0.1", "0.15"],
          "N = 36   p = 0.98", 0.1, 0.1444, 0.1086)
lab(ax, -0.33, 0.48, "Shift of RF center (deg)", 11.5, 90)

# ---------------------------------------------------------------- G
ax = add_ax(62, 561, 348, 717)
ax.axvspan(0.05, 0.25, ymax=1.0, color=SHADE, lw=0)
ax.axvspan(0.75, 0.95, ymax=1.0, color=SHADE, lw=0)
lines_panel(ax, g_depth, g_shift)
ax.set_ylim(0, 90)
ax.set_yticks(range(0, 81, 20))
ax.tick_params(axis="y", labelsize=11)
ax.tick_params(axis="x", labelsize=11, pad=2)
lab(ax, 0.43, 1.06, "N=47", 12)
lab(ax, -0.108, 0.47, "Shift of orientation preference (deg)", 11.5, 90)
lab(ax, 0.48, -0.225, "Relative depth", 17)

# ---------------------------------------------------------------- H
ax = add_ax(453, 576, 587, 712)
ax.plot([0, 90], [0, 90], color=REF, lw=1)
scatter_panel(ax, h_x, h_y)
ax.set_xlim(0, 90)
ax.set_ylim(0, 90)
ax.set_xticks(range(0, 81, 20))
ax.set_yticks(range(0, 81, 20))
ax.tick_params(labelsize=11, pad=2)
ax.text(27, 87, "N = 30", ha="center", va="center", fontsize=13)
lab(ax, -0.365, 0.5, "Shift of orientation preference (deg)", 9, 90)
lab(ax, -0.235, 0.53, "5/6 vs 4C", 11.5, 90)
lab(ax, 0.45, -0.2, "Shift of orientation preference (deg)", 8.5)
lab(ax, 0.45, -0.35, "2/3 vs 4C", 11.5)

# ---------------------------------------------------------------- I
ax = add_ax(683, 574, 815, 709)
bar_panel(ax, ori_mean, ori_sem, 40, [0, 10, 20, 30, 40], ["0", "10", "20", "30", "40"],
          "N = 30   p = 0.72", 30.3, 39.2, 32.6)
lab(ax, -0.235, 0.52, "Shift of orientation preference (deg)", 11, 90)

# ---------------------------------------------------------------- letters
for x, y, s in [(1, 9, "A"), (292, 8, "B"), (562, 8, "C"), (1, 287, "D"), (372, 286, "E"),
                (625, 283, "F"), (1, 531, "G"), (372, 530, "H"), (627, 529, "I")]:
    letter(x, y, s)

fig.savefig("out.png", dpi=100)
